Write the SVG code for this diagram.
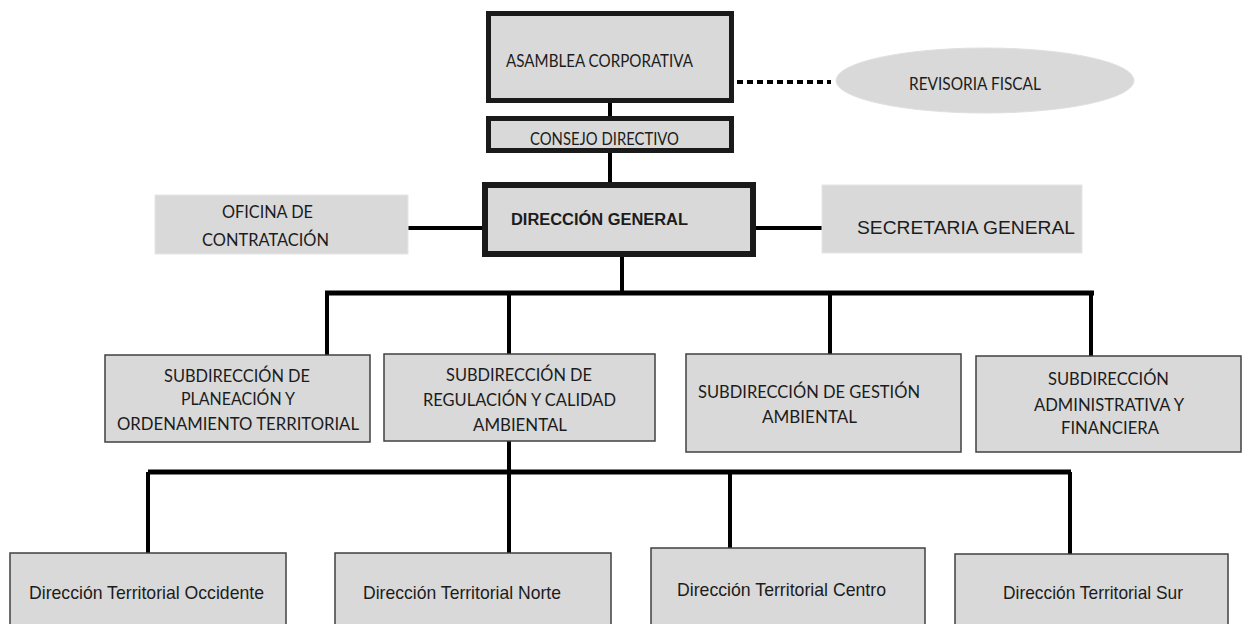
<svg xmlns="http://www.w3.org/2000/svg" width="1242" height="624" viewBox="0 0 1242 624">
<style>
.cal{font-family:Lato,"Liberation Sans",sans-serif;font-size:18px;fill:#1c1c1c}
.ar{font-family:"Liberation Sans",Arial,sans-serif;fill:#1c1c1c}
.thick{fill:#d9d9d9;stroke:#1a1a1a;stroke-width:5}
.thin{fill:#d9d9d9;stroke:#404040;stroke-width:1.5}
.plain{fill:#d9d9d9;stroke:#e6e6e6;stroke-width:1}
.ln{stroke:#000;stroke-width:4;fill:none}
.bar{stroke:#000;stroke-width:5;fill:none}
</style>
<rect width="1242" height="624" fill="#fff"/>
<g id="connectors">
<path class="ln" d="M610 103V116M610 153V182M408 228H482M756 228H822M622 257V293"/>
<path class="ln" stroke-dasharray="6 4" d="M737 82H831"/>
<path class="bar" d="M325 293H1094M148 472H1071"/>
<path class="ln" d="M327 293V355M509 293V354M830 293V354M1091 293V356M509 441V553M148 472V553M730 472V548M1070 472V554"/>
</g>
<g id="asamblea"><rect class="thick" x="488.5" y="13.5" width="243" height="87"/><text class="cal" x="506" y="67" textLength="187" lengthAdjust="spacingAndGlyphs">ASAMBLEA CORPORATIVA</text></g>
<g id="revisoria"><ellipse cx="985" cy="80.5" rx="149" ry="32.5" fill="#d9d9d9" stroke="#e0e0e0"/><text class="cal" x="909" y="90" textLength="132" lengthAdjust="spacingAndGlyphs">REVISORIA FISCAL</text></g>
<g id="consejo"><rect class="thick" x="488.5" y="118.5" width="243" height="32"/><text class="cal" x="530" y="145" textLength="149" lengthAdjust="spacingAndGlyphs">CONSEJO DIRECTIVO</text></g>
<g id="direccion"><rect fill="#d9d9d9" stroke="#1a1a1a" stroke-width="6" x="485" y="185" width="268" height="69"/><text class="ar" font-weight="bold" font-size="16" x="511" y="225" textLength="177" lengthAdjust="spacingAndGlyphs">DIRECCIÓN GENERAL</text></g>
<g id="oficina"><rect class="plain" x="155" y="195" width="253" height="59"/><text class="cal" x="222" y="218" textLength="91" lengthAdjust="spacingAndGlyphs">OFICINA DE</text><text class="cal" x="202" y="246" textLength="127" lengthAdjust="spacingAndGlyphs">CONTRATACIÓN</text></g>
<g id="secretaria"><rect class="plain" x="822" y="185" width="260" height="68"/><text class="ar" font-size="19" x="857" y="234" textLength="218" lengthAdjust="spacingAndGlyphs">SECRETARIA GENERAL</text></g>
<g id="sub-planeacion"><rect class="thin" x="105" y="355" width="265" height="87"/><text class="cal" x="164" y="382" textLength="146" lengthAdjust="spacingAndGlyphs">SUBDIRECCIÓN DE</text><text class="cal" x="181" y="405" textLength="114" lengthAdjust="spacingAndGlyphs">PLANEACIÓN Y</text><text class="cal" x="117" y="430" textLength="242" lengthAdjust="spacingAndGlyphs">ORDENAMIENTO TERRITORIAL</text></g>
<g id="sub-regulacion"><rect class="thin" x="384" y="354" width="271" height="87"/><text class="cal" x="446" y="381" textLength="146" lengthAdjust="spacingAndGlyphs">SUBDIRECCIÓN DE</text><text class="cal" x="423" y="406" textLength="193" lengthAdjust="spacingAndGlyphs">REGULACIÓN Y CALIDAD</text><text class="cal" x="473" y="431" textLength="94" lengthAdjust="spacingAndGlyphs">AMBIENTAL</text></g>
<g id="sub-gestion"><rect class="thin" x="686" y="354" width="275" height="98"/><text class="cal" x="698" y="398" textLength="222" lengthAdjust="spacingAndGlyphs">SUBDIRECCIÓN DE GESTIÓN</text><text class="cal" x="762" y="423" textLength="95" lengthAdjust="spacingAndGlyphs">AMBIENTAL</text></g>
<g id="sub-administrativa"><rect class="thin" x="976" y="356" width="265" height="96"/><text class="cal" x="1048" y="385" textLength="121" lengthAdjust="spacingAndGlyphs">SUBDIRECCIÓN</text><text class="cal" x="1034" y="411" textLength="150" lengthAdjust="spacingAndGlyphs">ADMINISTRATIVA Y</text><text class="cal" x="1061" y="434" textLength="98" lengthAdjust="spacingAndGlyphs">FINANCIERA</text></g>
<g id="dt-occidente"><rect class="thin" x="10" y="553" width="276" height="90"/><text class="ar" font-size="19" x="29" y="599" textLength="235" lengthAdjust="spacingAndGlyphs">Dirección Territorial Occidente</text></g>
<g id="dt-norte"><rect class="thin" x="335" y="553" width="276" height="90"/><text class="ar" font-size="19" x="363" y="599" textLength="198" lengthAdjust="spacingAndGlyphs">Dirección Territorial Norte</text></g>
<g id="dt-centro"><rect class="thin" x="651" y="548" width="274" height="95"/><text class="ar" font-size="19" x="677" y="596" textLength="209" lengthAdjust="spacingAndGlyphs">Dirección Territorial Centro</text></g>
<g id="dt-sur"><rect class="thin" x="955" y="554" width="273" height="89"/><text class="ar" font-size="19" x="1003" y="599" textLength="180" lengthAdjust="spacingAndGlyphs">Dirección Territorial Sur</text></g>
</svg>
